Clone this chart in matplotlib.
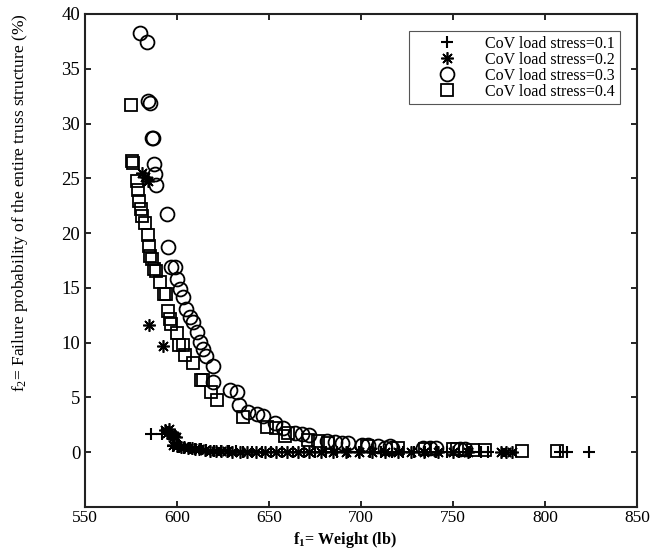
import numpy as np
import matplotlib
matplotlib.use("Agg")
import matplotlib.pyplot as plt

plt.rcParams['font.family'] = ['Liberation Serif', 'DejaVu Serif']
plt.rcParams['mathtext.fontset'] = 'custom'
plt.rcParams['mathtext.rm'] = 'Liberation Serif'
plt.rcParams['mathtext.bf'] = 'Liberation Serif:bold'
plt.rcParams['mathtext.default'] = 'regular'

# CoV load stress = 0.1  (plus)
x_01 = [586, 592, 598, 601, 604, 607, 610, 613, 616, 620, 624, 628, 632, 636, 641,
        646, 651, 657, 663, 669, 675, 681, 687, 693, 699, 705, 711, 717, 723, 729,
        735, 741, 747, 753, 759, 765, 769, 808, 812, 824]
y_01 = [1.7, 1.7, 0.6, 0.5, 0.4, 0.35, 0.3, 0.25, 0.2, 0.15, 0.12, 0.1, 0.08, 0.06, 0.05,
        0.04, 0.03, 0.02, 0.02, 0.01, 0.01, 0.01, 0, 0, 0, 0, 0, 0, 0, 0,
        0, 0, 0, 0, 0, 0, 0, 0, 0, 0]

# CoV load stress = 0.2  (asterisk)
x_02 = [581, 582.5, 584, 585, 592.5, 593.5, 594.5, 595.5, 596.5, 597.5, 598.5, 599.5,
        598, 600, 602, 604, 606, 608, 610, 612, 615, 618, 621, 624, 627, 630, 634, 638,
        643, 648, 654, 660, 666, 672, 678, 685, 692, 699, 706, 713, 720, 727, 734, 742,
        750, 758, 776, 779, 782]
y_02 = [25.5, 25.1, 24.8, 11.6, 9.7, 2.0, 1.8, 2.1, 1.7, 1.6, 1.5, 1.4,
        0.7, 0.6, 0.5, 0.45, 0.4, 0.35, 0.3, 0.25, 0.2, 0.15, 0.12, 0.1, 0.08, 0.06, 0.05, 0.04,
        0.03, 0.02, 0, 0, 0, 0, 0, 0, 0, 0, 0, 0, 0, 0, 0, 0,
        0, 0, 0, 0, 0]

# CoV load stress = 0.3  (circle)
x_03 = [580, 583.5, 584.5, 585.3, 586.2, 586.8, 587.7, 588.0, 588.4, 594.4, 594.9, 596.7,
        598.9, 599.8, 601.6, 603.1, 604.9, 607.1, 608.9, 610.7, 612.3, 614, 615.8, 619.4,
        619.7, 628.8, 632.4, 633.9, 638.8, 643.3, 646.9, 653.3, 657.8, 664.1, 667.8, 671.9,
        681.3, 685.9, 689.5, 693.1, 700.4, 704, 709.4, 715.8, 713, 717, 733.7, 737.5, 741,
        753.8, 756.5]
y_03 = [38.3, 37.4, 32.1, 31.9, 28.7, 28.7, 26.3, 25.4, 24.4, 21.7, 18.7, 16.9,
        16.9, 15.8, 14.9, 14.2, 13.1, 12.3, 11.9, 11.0, 10.1, 9.4, 8.8, 7.9,
        6.4, 5.7, 5.5, 4.3, 3.7, 3.5, 3.3, 2.7, 2.2, 1.8, 1.7, 1.6,
        1.0, 0.9, 0.85, 0.8, 0.7, 0.7, 0.6, 0.55, 0.4, 0.35, 0.35, 0.35, 0.35,
        0.3, 0.3]

# CoV load stress = 0.4  (square)
x_04 = [575, 575.4, 576.3, 578.1, 578.6, 579.5, 580.2, 580.8, 582.6, 584.1, 584.9, 585.3,
        586.2, 587.7, 588.6, 590.8, 592.9, 593.8, 595.3, 596.2, 596.7, 599.8, 601.2, 603.4,
        604.3, 608.9, 612.9, 614, 618.3, 621.9, 635.7, 648.7, 653.8, 658.7, 660.5, 671.4,
        676.8, 682.3, 703, 720, 735, 750.2, 752, 761, 767.4, 787.3, 806.3]
y_04 = [31.7, 26.6, 26.4, 24.8, 23.9, 22.9, 22.2, 21.6, 20.9, 19.8, 18.8, 17.9,
        17.6, 16.7, 16.5, 15.5, 14.4, 14.4, 12.9, 12.2, 11.7, 10.9, 9.8, 9.8,
        8.9, 8.1, 6.6, 6.6, 5.5, 4.8, 3.2, 2.3, 2.2, 1.5, 1.8, 1.1,
        1.0, 0.8, 0.6, 0.4, 0.3, 0.25, 0.25, 0.2, 0.2, 0.15, 0.15]

labels = ['CoV load stress=0.1', 'CoV load stress=0.2',
          'CoV load stress=0.3', 'CoV load stress=0.4']

fig = plt.figure(figsize=(6.6, 5.51), dpi=100)
ax = fig.add_axes([85 / 660, 1 - 507 / 551, 552 / 660, 493 / 551])

ax.plot(x_01, y_01, linestyle='none', marker='+', ms=9, mew=1.5, color='k', label=labels[0])
ax.plot(x_02, y_02, linestyle='none', marker=(8, 2, 0), ms=9, mew=1.2, color='k', label=labels[1])
ax.plot(x_03, y_03, linestyle='none', marker='o', ms=10, mew=1.3, mec='k', mfc='none', label=labels[2])
ax.plot(x_04, y_04, linestyle='none', marker='s', ms=8, mew=1.3, mec='k', mfc='none', label=labels[3])

ax.set_xlim(550, 850)
ax.set_ylim(-5, 40)
ax.set_xticks(np.arange(550, 851, 50))
ax.set_yticks(np.arange(0, 41, 5))
ax.tick_params(direction='in', length=4, width=1.2, top=True, right=True, labelsize=13.5)
ax.tick_params(axis='x', labelsize=12.5, pad=2.5)
for s in ax.spines.values():
    s.set_linewidth(1.5)
    s.set_color('#222222')

ax.set_xlabel(r'f$_{\mathbf{1}}$= Weight (lb)', fontsize=11.5, fontweight='bold')
ax.set_ylabel(r'f$_{2}$= Failure probability of the entire truss structure (%)', fontsize=12.5)
ax.xaxis.set_label_coords(0.47, -0.047)
ax.yaxis.set_label_coords(-0.1, 0.618)

leg = ax.legend(loc='upper right', bbox_to_anchor=(0.969, 0.966), borderaxespad=0,
                fontsize=11.5, handlelength=4.2, handletextpad=0.3, labelspacing=0.0,
                borderpad=0.3, fancybox=False, framealpha=1, edgecolor='#555555')
leg.get_frame().set_linewidth(0.8)

fig.savefig('out.png', dpi=100)
